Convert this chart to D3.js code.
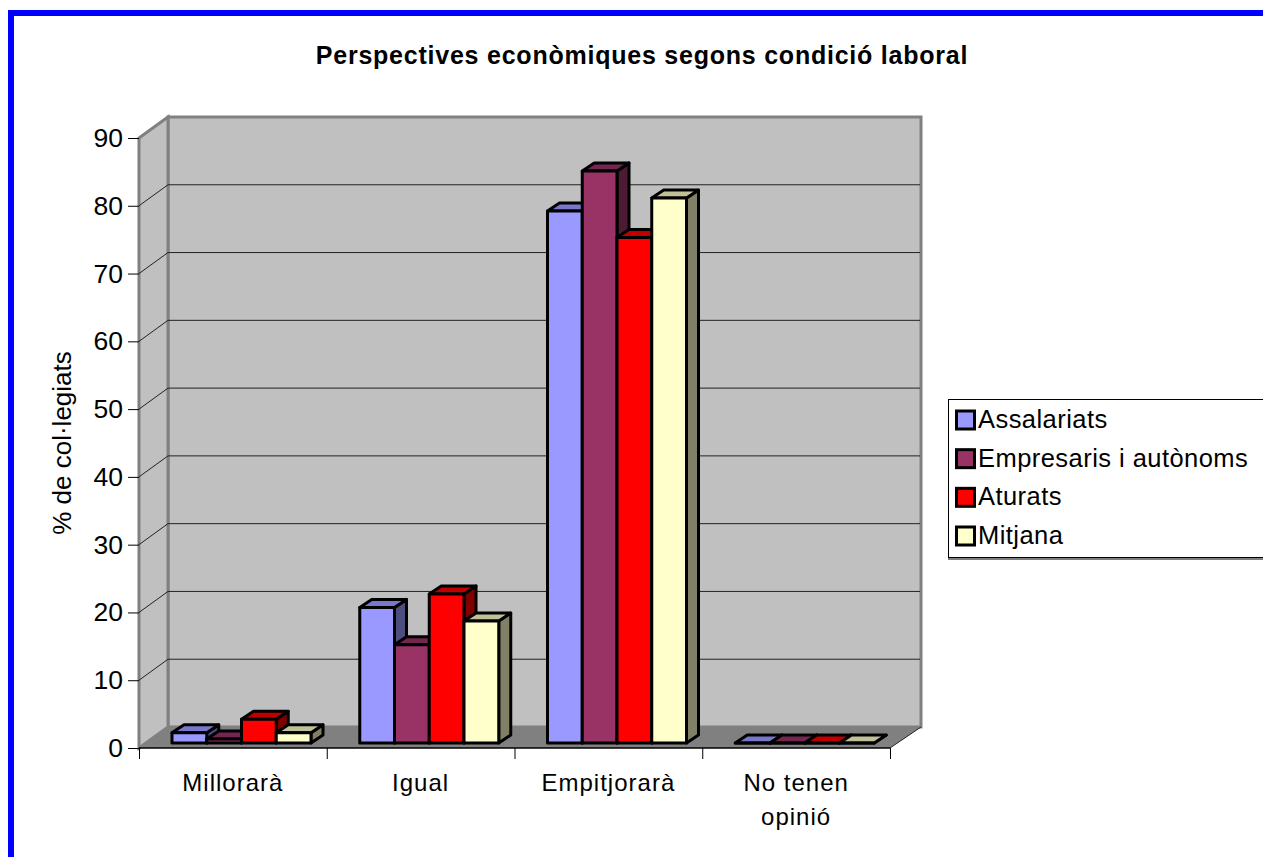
<!DOCTYPE html>
<html>
<head>
<meta charset="utf-8">
<script src="https://cdn.jsdelivr.net/npm/d3@7"></script>
<style>
  html, body { margin: 0; padding: 0; background: #fff; overflow: hidden; }
  svg { display: block; }
  text { font-family: "Liberation Sans", Arial, sans-serif; fill: #000; }
</style>
</head>
<body>
<div id="chart"></div>
<script>
const categories = ['Millorarà', 'Igual', 'Empitjorarà', 'No tenen opinió'];
const seriesNames = ['Assalariats', 'Empresaris i autònoms', 'Aturats', 'Mitjana'];
const assalariats = [1.5, 20, 78.5, 0];
const empresaris = [0.6, 14.5, 84.4, 0];
const aturats = [3.5, 22, 74.6, 0];
const mitjana = [1.5, 18, 80.4, 0];
const seriesValues = [assalariats, empresaris, aturats, mitjana];
const seriesFront = ['#9999ff', '#993366', '#ff0000', '#ffffcc'];
const seriesTop = ['#7777cc', '#732650', '#c00000', '#c0c099'];
const seriesSide = ['#4d4d80', '#4d1a33', '#800000', '#808066'];
const yTicks = [0, 10, 20, 30, 40, 50, 60, 70, 80, 90];

const W = 1263, H = 857;
const plotL = 139, plotR = 890, plotB = 748, plotT = 138;
const backL = 168, backR = 921;      // back wall edges
const wallDy = -21;                  // depth of the 3d box
const barDx = 12, barDy = -8;        // depth of a bar
const barLift = 5, groupPad = 33, groupW = 139;

const svg = d3.select('#chart').append('svg').attr('width', W).attr('height', H);

// blue frame, cut off at the page bottom and right
svg.append('path')
  .attr('d', `M11,${H} V13 H${W}`)
  .attr('fill', 'none').attr('stroke', '#0000ff').attr('stroke-width', 6);

const y = d3.scaleLinear().domain([0, 90]).range([plotB, plotT]);
const x0 = d3.scaleBand().domain(categories).range([plotL, plotR]);
const x1 = d3.scaleBand().domain(seriesNames).range([0, groupW]);

// walls and floor
const poly = pts => 'M' + pts.map(p => p.join(',')).join('L') + 'Z';
svg.append('path')
  .attr('d', poly([[backL, y(90) + wallDy], [backR, y(90) + wallDy],
                   [backR, y(0) + wallDy], [backL, y(0) + wallDy]]))
  .attr('fill', '#c0c0c0').attr('stroke', '#808080').attr('stroke-width', 3);
svg.append('path')
  .attr('d', poly([[plotL, y(90)], [backL, y(90) + wallDy],
                   [backL, y(0) + wallDy], [plotL, y(0)]]))
  .attr('fill', '#c0c0c0').attr('stroke', '#808080').attr('stroke-width', 3);

// gridlines on the back and side wall
const grid = svg.append('g').attr('fill', 'none').attr('stroke', '#222').attr('stroke-width', 1);
yTicks.filter(t => t > 0 && t < 90).forEach(t => {
  grid.append('path').attr('d',
    `M${plotL},${y(t)} L${backL},${y(t) + wallDy} H${backR - 1}`);
});

svg.append('path')
  .attr('d', poly([[plotL, y(0)], [backL, y(0) + wallDy],
                   [backR, y(0) + wallDy], [plotR, y(0)]]))
  .attr('fill', '#808080');
svg.append('path')
  .attr('d', `M${plotR},${y(0)} L${backR},${y(0) + wallDy}`)
  .attr('stroke', '#222').attr('stroke-width', 1);

// bars, left to right so each one covers the side of the previous one
const bars = svg.append('g')
  .attr('stroke', '#000').attr('stroke-width', 3).attr('stroke-linejoin', 'round');
categories.forEach((cat, c) => {
  seriesNames.forEach((name, s) => {
    const xa = x0(cat) + groupPad + x1(name);
    const xb = xa + x1.bandwidth();
    const yb = y(0) - barLift;
    const yt = y(seriesValues[s][c]) - barLift;
    bars.append('path')
      .attr('d', poly([[xb, yt], [xb + barDx, yt + barDy], [xb + barDx, yb + barDy], [xb, yb]]))
      .attr('fill', seriesSide[s]);
    bars.append('path')
      .attr('d', poly([[xa, yt], [xa + barDx, yt + barDy], [xb + barDx, yt + barDy], [xb, yt]]))
      .attr('fill', seriesTop[s]);
    bars.append('path')
      .attr('d', poly([[xa, yt], [xb, yt], [xb, yb], [xa, yb]]))
      .attr('fill', seriesFront[s]);
  });
});

// y axis
const yAxis = svg.append('g').attr('transform', `translate(${plotL},0)`)
  .call(d3.axisLeft(y).tickValues(yTicks).tickSize(11).tickPadding(5));
yAxis.select('.domain').remove();
yAxis.selectAll('.tick line').attr('stroke', '#000');
yAxis.selectAll('text').style('font-size', '26.5px')
  .style('font-family', '"Liberation Sans", Arial, sans-serif');

// x axis: ticks sit on the group boundaries
const xEdges = d3.scaleLinear().domain([0, categories.length]).range([plotL, plotR]);
const xAxis = svg.append('g').attr('transform', `translate(0,${plotB})`)
  .call(d3.axisBottom(xEdges).tickValues(d3.range(categories.length + 1)).tickSize(11).tickFormat(''));
xAxis.select('.domain').attr('d', `M${plotL},0 H${plotR}`).attr('stroke', '#000').attr('stroke-width', 1.5);
xAxis.selectAll('.tick line').attr('stroke', '#000');

const catLabels = svg.append('g').attr('text-anchor', 'middle').style('font-size', '24px');
const wrapped = { 'No tenen opinió': ['No tenen', 'opinió'] };
categories.forEach(cat => {
  (wrapped[cat] || [cat]).forEach((line, i) => {
    catLabels.append('text')
      .attr('x', x0(cat) + x0.bandwidth() / 2)
      .attr('y', 791 + i * 34)
      .attr('letter-spacing', 1)
      .text(line);
  });
});

svg.append('text')
  .attr('x', 642).attr('y', 64)
  .attr('text-anchor', 'middle')
  .style('font-size', '25px').style('font-weight', 'bold')
  .attr('letter-spacing', 0.77)
  .text('Perspectives econòmiques segons condició laboral');

svg.append('text')
  .attr('transform', 'translate(71,443) rotate(-90)')
  .attr('text-anchor', 'middle')
  .style('font-size', '26px')
  .text('% de col·legiats');

// legend
svg.append('rect')
  .attr('x', 948.5).attr('y', 399.5).attr('width', 320).attr('height', 158)
  .attr('fill', '#fff').attr('stroke', '#000').attr('stroke-width', 1);
svg.append('path').attr('d', 'M948,559 H1263').attr('stroke', '#808080').attr('stroke-width', 2);
const legendY = d3.scalePoint().domain(seriesNames).range([420, 536]);
seriesNames.forEach((name, s) => {
  svg.append('rect')
    .attr('x', 956.5).attr('y', legendY(name) - 9).attr('width', 18).attr('height', 18)
    .attr('fill', seriesFront[s]).attr('stroke', '#000').attr('stroke-width', 3);
  svg.append('text')
    .attr('x', 978).attr('y', legendY(name) + 8)
    .attr('letter-spacing', 0.45)
    .style('font-size', '25.5px')
    .text(name);
});
</script>
</body>
</html>
